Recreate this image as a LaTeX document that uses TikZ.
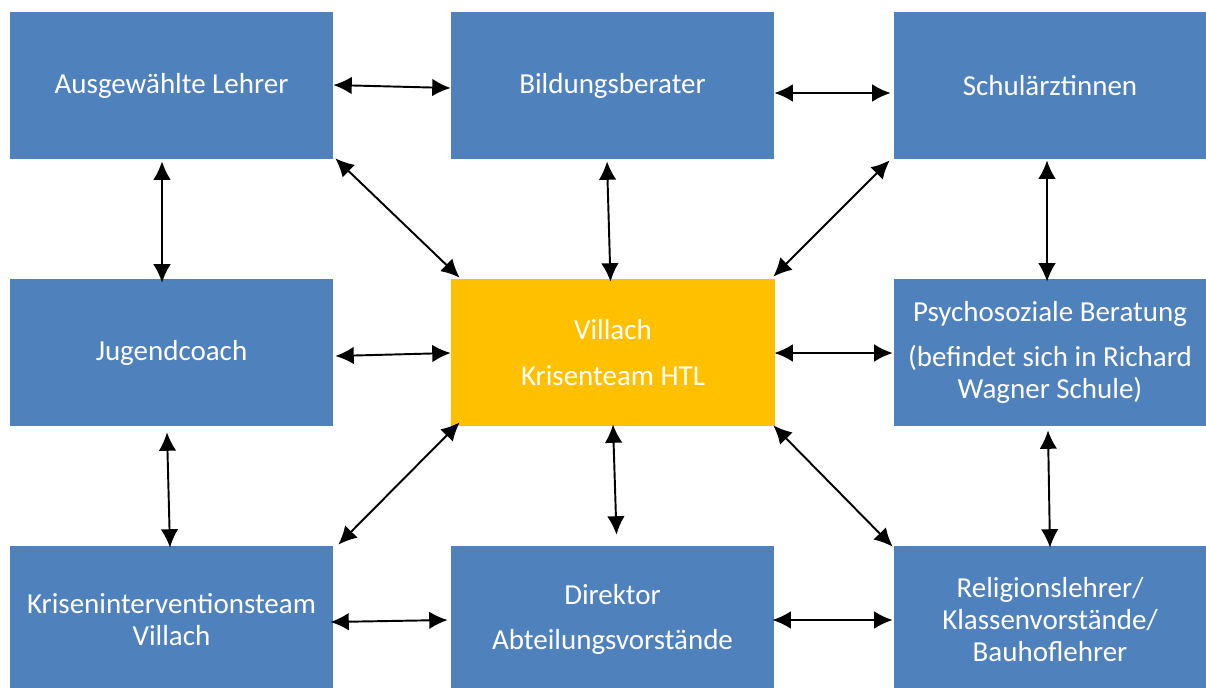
\documentclass[tikz,border=0pt]{standalone}
\usepackage{fontspec}
\setmainfont{Carlito}
\usetikzlibrary{calc,positioning,arrows.meta}
\definecolor{boxblue}{HTML}{4F81BD}
\definecolor{teamorange}{HTML}{FFC000}

\begin{document}
\begin{tikzpicture}[x=0.02cm,y=-0.02cm,
  every node/.style={fill=boxblue,text=white,align=center,inner sep=0pt,
    font=\fontsize{16.5}{18.2}\selectfont},
  box/.style={minimum width=6.46cm,minimum height=2.94cm},
  rbox/.style={minimum width=6.24cm,minimum height=2.94cm},
  conn/.style={line width=1.1pt,{Latex[length=10.5pt,width=10pt]}-{Latex[length=10.5pt,width=10pt]}}]
     \clip (0,0) rectangle (1206,687);
     \useasboundingbox (0,0) rectangle (1206,687);
     % top row
     \node[box] (ausw) at (171.5,85.5) {Ausgewählte Lehrer};
     \node[box] at ($(ausw)+(441,0)$) (bild) {Bildungsberater};
     \node[rbox] at (1050,85.5) (schul) {Schulärztinnen};
     % middle row
     \node[box] at ($(ausw)+(0,267)$) (jugend) {Jugendcoach};
     \node[box,minimum width=6.48cm,fill=teamorange] at (613,352.5) (team) {Villach\\[8pt]Krisenteam HTL};
     \node[rbox] at ($(schul)+(0,267)$) (psycho) {Psychosoziale Beratung\\[7.5pt](befindet sich in Richard\\Wagner Schule)};
     % bottom row (runs past the lower edge)
     \node[box] at ($(jugend)+(0,267)$) (krisen) {Kriseninterventionsteam\\Villach};
     \node[box] at ($(krisen)+(441,0)$) (direk) {Direktor\\[7pt]Abteilungsvorstände};
     \node[rbox] at ($(psycho)+(0,267)$) (relig) {Religionslehrer/\\Klassenvorstände/\\Bauhoflehrer};
     % connectors
     \draw[conn] ($(ausw.east)+(0,-0.5)$) -- ($(bild.west)+(0,2.5)$);
     \draw[conn] ($(bild.east)+(0,7.5)$) -- ($(schul.west)+(-3,7.5)$);
     \draw[conn] ($(ausw.south)+(-9.5,2)$) -- ($(jugend.north)+(-9.5,4)$);
     \draw[conn] ($(bild.south)+(-5.5,2)$) -- ($(team.north)+(-2.5,3)$);
     \draw[conn] ($(schul.south)+(-3,1)$) -- ($(psycho.north)+(-3,3)$);
     \draw[conn] ($(ausw.south east)+(2,-1)$) -- ($(team.north west)+(9,-1)$);
     \draw[conn] ($(schul.south west)+(-4,1)$) -- ($(team.north east)+(-2,-2)$);
     \draw[conn] ($(jugend.east)+(2,3.5)$) -- ($(team.west)+(0,0.5)$);
     \draw[conn] ($(team.east)+(-1,0.5)$) -- ($(psycho.west)+(-1,0.5)$);
     \draw[conn] ($(jugend.south)+(-4.5,6)$) -- ($(krisen.north)+(-1.5,2)$);
     \draw[conn] ($(team.south)+(0,-2)$) -- ($(direk.north)+(4,-11)$);
     \draw[conn] ($(psycho.south)+(-2,4)$) -- ($(relig.north)+(0,2)$);
     \draw[conn] ($(team.south west)+(9,-4)$) -- ($(krisen.north east)+(5,-1)$);
     \draw[conn] ($(team.south east)+(-2,-1)$) -- ($(relig.north west)+(-1,1)$);
     \draw[conn] ($(krisen.east)+(-3,2.5)$) -- ($(direk.west)+(-3,0.5)$);
     \draw[conn] ($(direk.east)+(-2,0.5)$) -- ($(relig.west)+(-1,0.5)$);
\end{tikzpicture}
\end{document}
